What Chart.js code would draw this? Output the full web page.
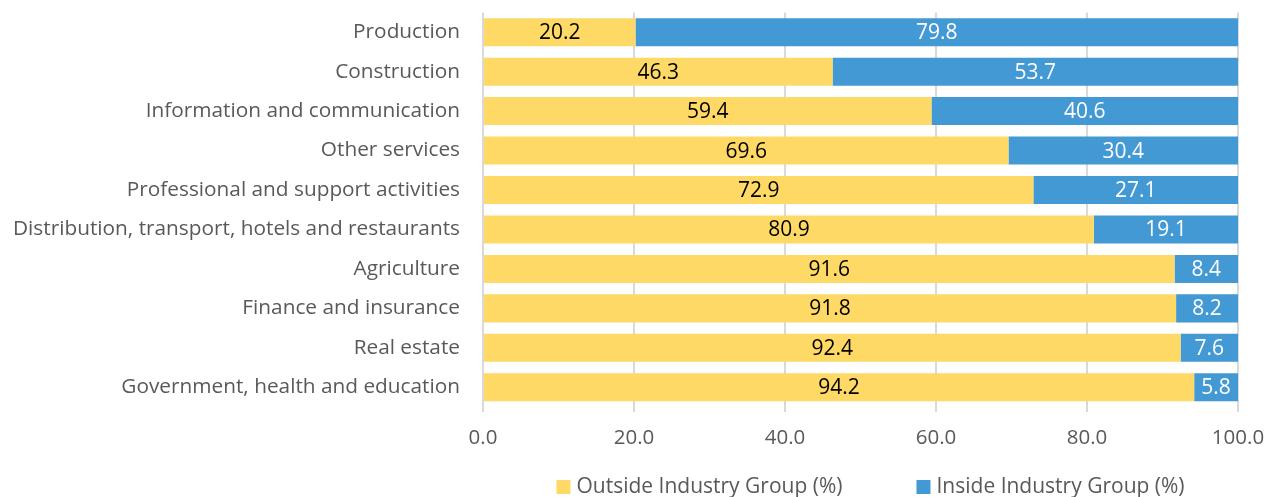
<!DOCTYPE html>
<html lang="en">
<head>
  <meta charset="UTF-8">
  <title>Industry Group</title>
  <script src="https://cdn.jsdelivr.net/npm/chart.js"></script>
  <style>
    body { margin: 0; background: #fff; }
    #chart { display: block; }
  </style>
</head>
<body>
  <canvas id="chart" width="1266" height="497"></canvas>
  <script>
    const categories = [
      'Production',
      'Construction',
      'Information and communication',
      'Other services',
      'Professional and support activities',
      'Distribution, transport, hotels and restaurants',
      'Agriculture',
      'Finance and insurance',
      'Real estate',
      'Government, health and education'
    ];
    const outside = [20.2, 46.3, 59.4, 69.6, 72.9, 80.9, 91.6, 91.8, 92.4, 94.2];
    const inside = [79.8, 53.7, 40.6, 30.4, 27.1, 19.1, 8.4, 8.2, 7.6, 5.8];
    const xTicks = [0, 20, 40, 60, 80, 100];

    const fontFamily = "'Open Sans', 'Noto Sans', sans-serif";
    const labelColors = ['#000000', '#ffffff'];

    // draw the value in the middle of each bar segment
    const barLabels = {
      id: 'barLabels',
      afterDatasetsDraw(chart) {
        const ctx = chart.ctx;
        ctx.save();
        ctx.font = '21px ' + fontFamily;
        ctx.textAlign = 'center';
        ctx.textBaseline = 'middle';
        chart.data.datasets.forEach((ds, i) => {
          const meta = chart.getDatasetMeta(i);
          ctx.fillStyle = labelColors[i];
          meta.data.forEach((bar, j) => {
            const x = (bar.x + bar.base) / 2;
            ctx.fillText(ds.data[j].toFixed(1), x, bar.y + 1);
          });
        });
        ctx.restore();
      }
    };

    // legend under the axis, spaced like the original
    const bottomLegend = {
      id: 'bottomLegend',
      afterDraw(chart) {
        const ctx = chart.ctx;
        const box = 14, gap = 6, itemGap = 74;
        ctx.save();
        ctx.font = '21px ' + fontFamily;
        ctx.textBaseline = 'middle';
        const items = chart.data.datasets.map(ds => ({
          text: ds.label, color: ds.backgroundColor, w: ctx.measureText(ds.label).width
        }));
        const total = items.reduce((s, it) => s + box + gap + it.w, 0) + itemGap * (items.length - 1);
        const cx = (chart.chartArea.left + chart.chartArea.right) / 2 + 10;
        let x = cx - total / 2;
        const y = chart.chartArea.bottom + 80;
        items.forEach(it => {
          ctx.fillStyle = it.color;
          ctx.fillRect(x, y - box / 2, box, box);
          ctx.fillStyle = '#595959';
          ctx.fillText(it.text, x + box + gap, y);
          x += box + gap + it.w + itemGap;
        });
        ctx.restore();
      }
    };

    const ctx = document.getElementById('chart').getContext('2d');
    new Chart(ctx, {
      type: 'bar',
      data: {
        labels: categories,
        datasets: [
          { label: 'Outside Industry Group (%)', data: outside, backgroundColor: '#FFD966',
            categoryPercentage: 0.71, barPercentage: 1 },
          { label: 'Inside Industry Group (%)', data: inside, backgroundColor: '#4399D4',
            categoryPercentage: 0.71, barPercentage: 1 }
        ]
      },
      options: {
        indexAxis: 'y',
        responsive: false,
        animation: false,
        layout: { padding: { top: 0, right: 28, left: 0, bottom: 0 } },
        plugins: {
          tooltip: { enabled: false },
          legend: { display: false }
        },
        scales: {
          x: {
            stacked: true,
            min: 0, max: 100,
            afterBuildTicks: (axis) => { axis.ticks = xTicks.map(v => ({ value: v })); },
            ticks: {
              color: '#595959',
              padding: 0,
              font: { family: fontFamily, size: 20.5 },
              callback: (v) => Number(v).toFixed(1)
            },
            // long tick space for the labels, but only a short visible tick mark
            grid: { color: '#d9d9d9', lineWidth: 2, tickLength: 19, tickBorderDash: [5, 200] },
            border: { display: false },
            afterFit: (axis) => { axis.height = 90; }
          },
          y: {
            stacked: true,
            ticks: {
              color: '#595959',
              padding: 0,
              font: { family: fontFamily, size: 20.8 }
            },
            grid: { display: false, drawTicks: true, tickLength: 23 },
            border: { display: false },
            afterFit: (axis) => { axis.width = 483; }
          }
        }
      },
      plugins: [barLabels, bottomLegend]
    });
  </script>
</body>
</html>
